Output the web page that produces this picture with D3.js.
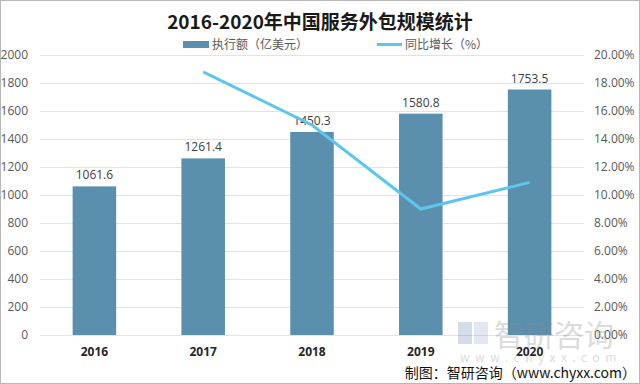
<!DOCTYPE html>
<html>
<head>
<meta charset="utf-8">
<script src="https://cdn.jsdelivr.net/npm/d3@7"></script>
<style>
  body { margin: 0; background: #fff; }
  text { font-family: "Noto Sans CJK SC", "Noto Sans", sans-serif; }
</style>
</head>
<body>
<div id="chart"></div>
<script>
// chart data
var years = ["2016", "2017", "2018", "2019", "2020"];
var amounts = [1061.6, 1261.4, 1450.3, 1580.8, 1753.5];
var growthYears = ["2017", "2018", "2019", "2020"];
var growth = [18.8, 15.0, 9.0, 10.9];
var leftTicks = [0, 200, 400, 600, 800, 1000, 1200, 1400, 1600, 1800, 2000];
var rightTicks = [0, 2, 4, 6, 8, 10, 12, 14, 16, 18, 20];

var svgWidth = 640;
var svgHeight = 384;
var margin = { top: 55, right: 56, bottom: 49, left: 40 };
var width = svgWidth - margin.left - margin.right;
var height = svgHeight - margin.top - margin.bottom;

var svg = d3.select("#chart")
  .append("svg")
  .attr("width", svgWidth)
  .attr("height", svgHeight);

// frame
svg.append("rect")
  .attr("x", 0.5).attr("y", 0.5)
  .attr("width", svgWidth - 1).attr("height", svgHeight - 1)
  .attr("fill", "#fff")
  .attr("stroke", "#b8b8b8");

var chartGroup = svg.append("g")
  .attr("transform", `translate(${margin.left}, ${margin.top})`);

var xScale = d3.scaleBand()
  .domain(years)
  .range([0, width])
  .paddingInner(0.6)
  .paddingOuter(0.3);

var yLeft = d3.scaleLinear().domain([0, 2000]).range([height, 0]);
var yRight = d3.scaleLinear().domain([0, 20]).range([height, 0]);

// gridlines
chartGroup.selectAll(".grid")
  .data(leftTicks)
  .enter()
  .append("line")
  .attr("x1", 0)
  .attr("x2", width)
  .attr("y1", d => yLeft(d) + 0.5)
  .attr("y2", d => yLeft(d) + 0.5)
  .attr("stroke", "#e3e3e3")
  .attr("stroke-width", 1);

// left axis
var leftAxis = d3.axisLeft(yLeft).tickValues(leftTicks).tickSize(0).tickPadding(12)
  .tickFormat(d3.format("d"));
var gl = chartGroup.append("g").call(leftAxis);
gl.select(".domain").remove();
gl.selectAll("text").attr("font-size", "12px").attr("fill", "#595959")
  .style("font-family", "'Open Sans', sans-serif");

// right axis
var rightAxis = d3.axisRight(yRight).tickValues(rightTicks).tickSize(0).tickPadding(10)
  .tickFormat(d => d.toFixed(2) + "%");
var gr = chartGroup.append("g").attr("transform", `translate(${width}, 0)`).call(rightAxis);
gr.select(".domain").remove();
gr.selectAll("text").attr("font-size", "12px").attr("fill", "#595959")
  .style("font-family", "'Open Sans', sans-serif");

// bottom axis
var bottomAxis = d3.axisBottom(xScale).tickSize(0).tickPadding(12);
var gb = chartGroup.append("g").attr("transform", `translate(0, ${height})`).call(bottomAxis);
gb.select(".domain").remove();
gb.selectAll("text").attr("font-size", "12px").attr("font-weight", "bold").attr("fill", "#262626")
  .style("font-family", "'Open Sans', sans-serif");

// bars
chartGroup.selectAll(".bar")
  .data(amounts)
  .enter()
  .append("rect")
  .attr("x", (d, i) => xScale(years[i]))
  .attr("y", d => yLeft(d))
  .attr("width", xScale.bandwidth())
  .attr("height", d => height - yLeft(d))
  .attr("fill", "#5b8fae");

// bar labels
chartGroup.selectAll(".barlabel")
  .data(amounts)
  .enter()
  .append("text")
  .attr("x", (d, i) => xScale(years[i]) + xScale.bandwidth() / 2)
  .attr("y", d => yLeft(d) - 7)
  .attr("text-anchor", "middle")
  .attr("font-size", "12px")
  .attr("fill", "#404040")
  .style("font-family", "'Open Sans', sans-serif")
  .text(d => d.toFixed(1));

// growth line
var line = d3.line()
  .x((d, i) => xScale(growthYears[i]) + xScale.bandwidth() / 2)
  .y(d => yRight(d));

chartGroup.append("path")
  .datum(growth)
  .attr("d", line)
  .attr("fill", "none")
  .attr("stroke", "#5cc6ee")
  .attr("stroke-width", 3);

// title
svg.append("text")
  .attr("x", 320)
  .attr("y", 29)
  .attr("text-anchor", "middle")
  .attr("font-size", "19px")
  .attr("font-weight", "bold")
  .attr("fill", "#1a1a1a")
  .text("2016-2020年中国服务外包规模统计");

// legend
svg.append("rect")
  .attr("x", 183).attr("y", 41)
  .attr("width", 26).attr("height", 7)
  .attr("fill", "#5b8fae");
svg.append("text")
  .attr("x", 212).attr("y", 49)
  .attr("font-size", "12px").attr("fill", "#595959")
  .text("执行额（亿美元）");

svg.append("line")
  .attr("x1", 377).attr("x2", 402)
  .attr("y1", 44.5).attr("y2", 44.5)
  .attr("stroke", "#5cc6ee").attr("stroke-width", 3);
svg.append("text")
  .attr("x", 405).attr("y", 49)
  .attr("font-size", "12px").attr("fill", "#595959")
  .text("同比增长（%）");

// watermark
var wm = svg.append("g").attr("opacity", 0.3);
wm.append("rect").attr("x", 458).attr("y", 322).attr("width", 14).attr("height", 22).attr("fill", "#6f8fb8");
wm.append("rect").attr("x", 474).attr("y", 322).attr("width", 14).attr("height", 22).attr("fill", "#9fb6d2");
wm.append("text")
  .attr("x", 494).attr("y", 346)
  .attr("font-size", "30px").attr("fill", "#8a8a8a")
  .text("智研咨询");
wm.append("text")
  .attr("x", 460).attr("y", 362)
  .attr("font-size", "12px").attr("fill", "#8a8a8a")
  .attr("letter-spacing", "5.5px")
  .text("www.chyxx.com");

// source
svg.append("text")
  .attr("x", 636)
  .attr("y", 378)
  .attr("text-anchor", "end")
  .attr("font-size", "14px")
  .attr("fill", "#111")
  .text("制图：智研咨询（www.chyxx.com）");
</script>
</body>
</html>
